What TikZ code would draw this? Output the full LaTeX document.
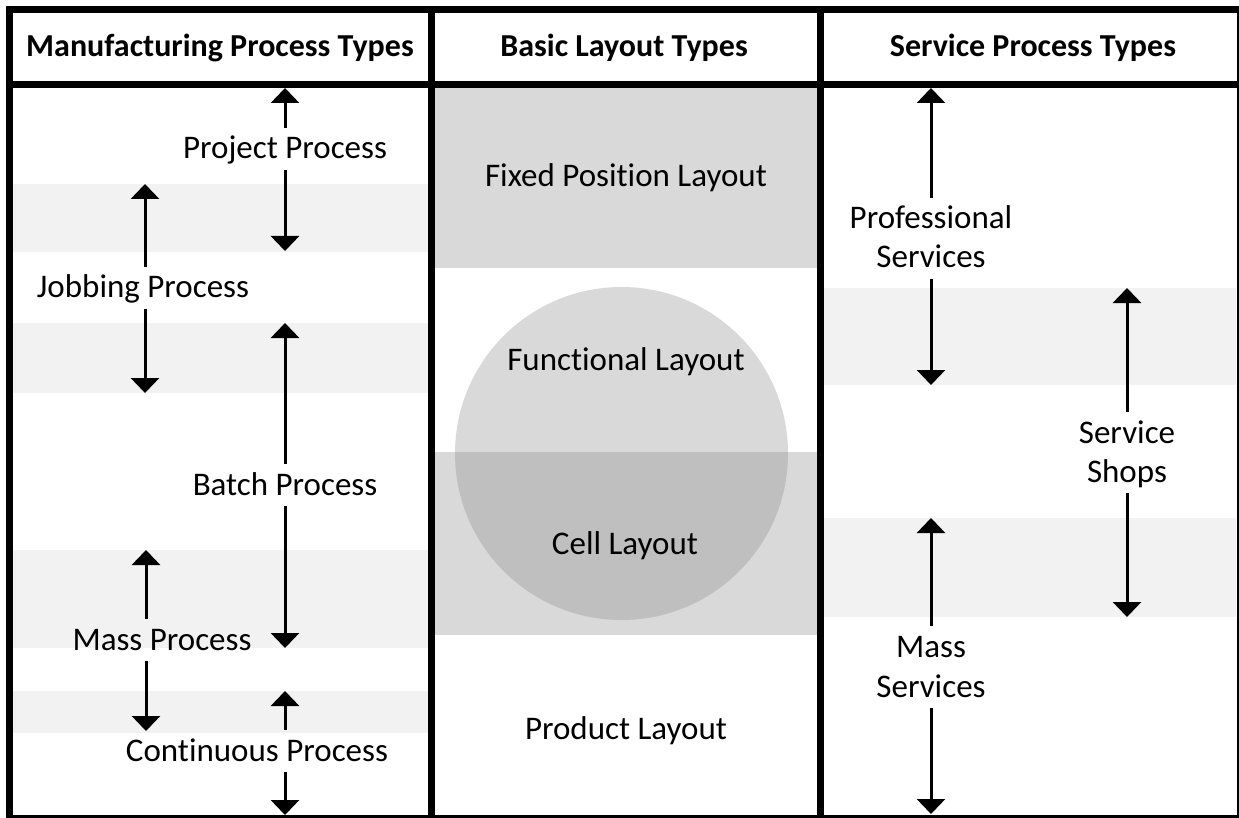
\documentclass[tikz,border=0pt]{standalone}
\usepackage{fontspec}
\setmainfont[Ligatures=NoCommon]{Carlito}
\usetikzlibrary{arrows.meta}
\definecolor{bandgray}{HTML}{F2F2F2}
\definecolor{boxgray}{HTML}{D9D9D9}
\definecolor{overlapgray}{HTML}{BFBFBF}
\tikzset{
  frame/.style={line width=7pt},
  lbl/.style={font=\fontsize{33}{40}\selectfont, text height=23pt, text depth=3pt,
              inner xsep=4pt, inner ysep=8pt, anchor=base},
  head/.style={font=\bfseries\fontsize{32}{38}\selectfont, anchor=base},
  span/.style={line width=3pt, -{Triangle[length=15pt,width=28pt]}},
}
\begin{document}
\begin{tikzpicture}[x=1pt,y=-1pt]
\useasboundingbox (0,0) rectangle (1239,818);
\fill[white] (0,0) rectangle (1239,818);

% shaded rows, manufacturing column
\fill[bandgray] (13,184) rectangle (428,252);
\fill[bandgray] (13,323) rectangle (428,393);
\fill[bandgray] (13,550) rectangle (428,648);
\fill[bandgray] (13,691) rectangle (428,733);

% shaded rows, service column
\fill[bandgray] (823,288) rectangle (1236,385);
\fill[bandgray] (823,518) rectangle (1236,617);

% layout column: fixed position block, cell block and functional circle
\fill[boxgray] (435,88) rectangle (817,268);
\fill[boxgray] (435,452) rectangle (817,635);
\fill[boxgray] (621.5,453.5) circle[radius=166.5pt];
\begin{scope}
  \clip (621.5,453.5) circle[radius=166.5pt];
  \fill[overlapgray] (435,452) rectangle (817,635);
\end{scope}

% table frame
\draw[frame] (9.5,9.5) rectangle (1240,818.5);
\draw[frame] (9.5,85) -- (1240,85);
\draw[frame] (431.5,9.5) -- (431.5,818.5);
\draw[frame] (820,9.5) -- (820,818.5);

% headings
\node[head] (hmf) at (220,57) {Manufacturing Process Types};
\node[head] (hbl) at (624,57) {Basic Layout Types};
\node[head] (hsp) at (1033,57) {Service Process Types};

% layout types
\node[lbl] (fixed) at (626,187) {Fixed Position Layout};
\node[lbl] (func)  at (626,370) {Functional Layout};
\node[lbl] (cell)  at (625,554) {Cell Layout};
\node[lbl] (prod)  at (626,739) {Product Layout};

% manufacturing process ranges
\coordinate (proj-up) at (285,88);  \coordinate (proj-dn) at (285,251);
\node[lbl] (proj) at (285,159) {Project Process};
\draw[span] (proj.north -| proj-up) -- (proj-up);
\draw[span] (proj.south -| proj-dn) -- (proj-dn);

\coordinate (job-up) at (145,184);  \coordinate (job-dn) at (145,393);
\node[lbl] (job) at (143,298) {Jobbing Process};
\draw[span] (job.north -| job-up) -- (job-up);
\draw[span] (job.south -| job-dn) -- (job-dn);

\coordinate (bat-up) at (285,323);  \coordinate (bat-dn) at (285,648);
\node[lbl] (bat) at (285,495) {Batch Process};
\draw[span] (bat.north -| bat-up) -- (bat-up);
\draw[span] (bat.south -| bat-dn) -- (bat-dn);

\coordinate (mass-up) at (146,550);  \coordinate (mass-dn) at (146,731);
\node[lbl] (mass) at (162,650) {Mass Process};
\draw[span] (mass.north -| mass-up) -- (mass-up);
\draw[span] (mass.south -| mass-dn) -- (mass-dn);

\coordinate (cont-up) at (285,691);  \coordinate (cont-dn) at (285,815);
\node[lbl] (cont) at (257,761) {Continuous Process};
\draw[span] (cont.north -| cont-up) -- (cont-up);
\draw[span] (cont.south -| cont-dn) -- (cont-dn);

% service process ranges
\coordinate (prof-up) at (931,88);  \coordinate (prof-dn) at (931,385);
\node[lbl] (prof1) at (931,229) {Professional};
\node[lbl] (prof2) at (931,268) {Services};
\draw[span] (prof1.north) -- (prof-up);
\draw[span] (prof2.south) -- (prof-dn);

\coordinate (shop-up) at (1127,288);  \coordinate (shop-dn) at (1127,617);
\node[lbl] (shop1) at (1127,443) {Service};
\node[lbl] (shop2) at (1127,482) {Shops};
\draw[span] (shop1.north) -- (shop-up);
\draw[span] (shop2.south) -- (shop-dn);

\coordinate (msv-up) at (931,518);  \coordinate (msv-dn) at (931,814);
\node[lbl] (msv1) at (931,657) {Mass};
\node[lbl] (msv2) at (931,697) {Services};
\draw[span] (msv1.north) -- (msv-up);
\draw[span] (msv2.south) -- (msv-dn);
\end{tikzpicture}
\end{document}
